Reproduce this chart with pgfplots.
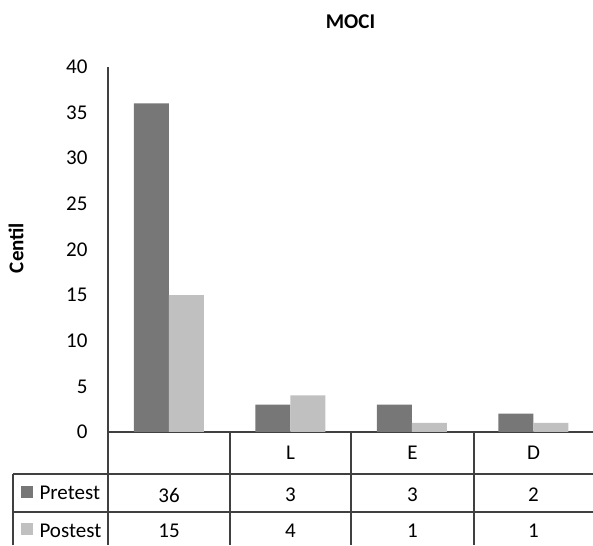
\documentclass[border=0pt]{standalone}
\usepackage{pgfplots}
\pgfplotsset{compat=1.18}
\usepackage{fontspec}
\setmainfont{Carlito}
\definecolor{pre}{HTML}{777777}
\definecolor{post}{HTML}{C0C0C0}
\definecolor{ln}{HTML}{404040}
\begin{document}
\begin{tikzpicture}[x=1pt,y=1pt,font={\fontsize{21}{25}\selectfont}]
\begin{axis}[
  scale only axis, width=486pt, height=365pt,
  xmin=-0.5, xmax=3.5, ymin=0, ymax=40,
  ybar=0pt, bar width=35pt,
  axis lines=left, axis line style={-, ln, line width=1.8pt},
  xtick=\empty,
  ytick={0,5,...,40},
  major tick length=0pt,
  yticklabel style={font={\fontsize{21}{25}\selectfont}, xshift=-17pt},
  /pgf/number format/assume math mode=true,
  clip=false,
]
\addplot[fill=pre, draw=none] coordinates {(0,36) (1,3) (2,3) (3,2)};
\addplot[fill=post, draw=none] coordinates {(0,15) (1,4) (2,1) (3,1)};
\coordinate (O) at (rel axis cs:0,0);
\end{axis}
\begin{scope}[shift={(O)}]
\begin{scope}[shift={(-108,-113)}]
% title and y label
\node at (350.5,523) {\textbf{MOCI}};
\node[rotate=90] at (16,297) {\textbf{Centil}};
% table grid
\begin{scope}[ln, line width=1.8pt]
\draw (13,71) -- (593,71);
\draw (13,33) -- (593,33);
\draw (13,71) -- (13,0);
\foreach \x in {108,230,351,474} \draw (\x,113) -- (\x,0);
\end{scope}
% header
\node at (290.5,92) {L};
\node at (412.5,92) {E};
\node at (533.5,92) {D};
% legend keys
\fill[pre] (21,59) rectangle (33,47);
\fill[post] (21,22) rectangle (33,10);
\node[anchor=west] at (36,52) {Pretest};
\node[anchor=west] at (36,14) {Postest};
% values
\foreach \v/\x in {36/169,3/290.5,3/412.5,2/533.5} \node at (\x,50) {\v};
\foreach \v/\x in {15/169,4/290.5,1/412.5,1/533.5} \node at (\x,14) {\v};
\pgfresetboundingbox
\path[use as bounding box] (0,0) rectangle (593,545);
\end{scope}
\end{scope}
\end{tikzpicture}
\end{document}
